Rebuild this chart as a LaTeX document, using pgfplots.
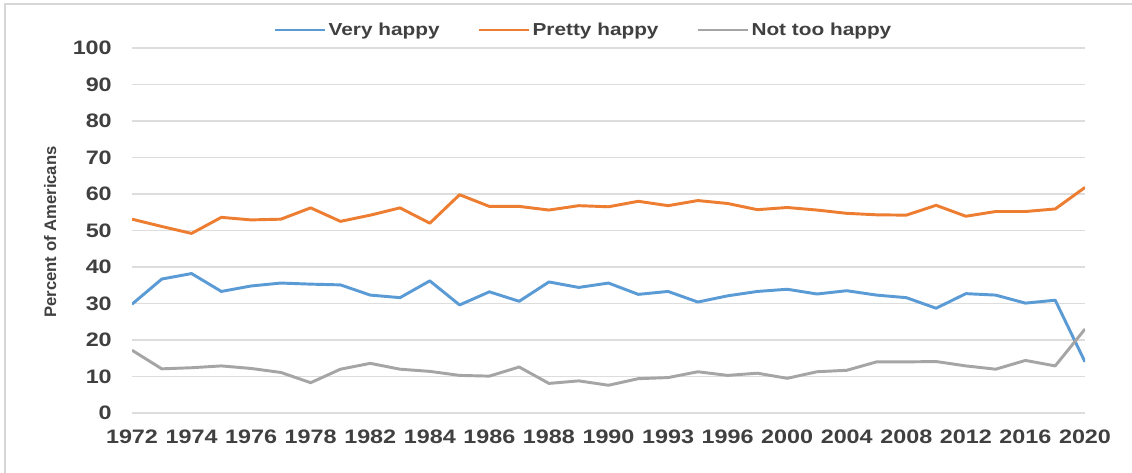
\documentclass[border=0pt]{standalone}
\usepackage{fontspec}
\setmainfont{Liberation Sans}[FakeStretch=1.2]
\newfontfamily\ylfont{Liberation Sans}
\usepackage{pgfplots}
\usepackage{pgfplotstable}
\pgfplotsset{compat=1.18}
\definecolor{cVery}{HTML}{5B9BD5}
\definecolor{cPretty}{HTML}{ED7D31}
\definecolor{cNot}{HTML}{A5A5A5}
\definecolor{cText}{HTML}{404040}
\definecolor{cGrid}{HTML}{DDDDDD}
\definecolor{cFrame}{HTML}{D6D6D6}
\pgfplotstableread{
i very pretty not
0 29.8 53.1 17.2
1 36.7 51.1 12.1
2 38.2 49.2 12.4
3 33.3 53.6 12.9
4 34.8 52.9 12.2
5 35.6 53.1 11.1
6 35.3 56.2 8.3
7 35.1 52.5 12.0
8 32.3 54.2 13.6
9 31.6 56.2 12.0
10 36.2 52.0 11.4
11 29.6 59.8 10.3
12 33.2 56.6 10.1
13 30.6 56.6 12.6
14 35.9 55.6 8.1
15 34.4 56.8 8.8
16 35.6 56.5 7.6
17 32.5 58.0 9.4
18 33.3 56.8 9.7
19 30.4 58.2 11.3
20 32.1 57.4 10.3
21 33.3 55.7 10.9
22 33.9 56.3 9.5
23 32.6 55.6 11.3
24 33.5 54.7 11.7
25 32.3 54.3 14.0
26 31.6 54.2 14.0
27 28.7 56.9 14.1
28 32.7 53.9 12.9
29 32.3 55.2 12.0
30 30.1 55.2 14.4
31 30.9 55.9 12.9
32 14.0 61.8 23.0
}\datatable
\begin{document}
\begin{tikzpicture}
\useasboundingbox (0,0) rectangle (849pt,354.75pt);
\fill[white] (0,0) rectangle (849pt,354.75pt);
\draw[cFrame, line width=1.2pt] (3.75pt,0) -- (3.75pt,351.75pt) -- (849pt,351.75pt);
\begin{axis}[
  at={(99pt,45pt)}, anchor=south west,
  scale only axis,
  width=714.75pt, height=273.75pt,
  xmin=0, xmax=32, ymin=0, ymax=100,
  xtick={0,2,...,32},
  xticklabels={1972,1974,1976,1978,1982,1984,1986,1988,1990,1993,1996,2000,2004,2008,2012,2016,2020},
  ytick={0,10,...,100},
  axis line style={draw=none},
  major tick length=0pt,
  ymajorgrids,
  grid style={cGrid, line width=1.3pt},
  /pgf/number format/assume math mode=true,
  ticklabel style={font=\fontsize{14.6}{16}\selectfont\bfseries, text=cText, inner sep=0pt},
  yticklabel style={anchor=east, xshift=-15pt},
  xticklabel style={anchor=north, yshift=-12.5pt},
  ylabel={Percent of Americans},
  every axis y label/.style={at={(axis description cs:-0.086,0.496)}, rotate=90, anchor=center, font=\ylfont\fontsize{12.5}{14}\selectfont\bfseries, text=cText},
  legend columns=3,
  legend style={at={(axis description cs:0.4738,1.0493)}, anchor=center, draw=none, fill=none,
    font=\fontsize{13}{15}\selectfont\bfseries, text=cText,
    /tikz/every even column/.append style={column sep=27pt},
    nodes={inner sep=1.5pt}},
  legend image code/.code={\draw[#1] (0pt,0pt) -- (37.5pt,0pt);},
  every axis plot/.append style={line width=2.2pt, line join=round, no markers},
]
\addplot[cVery] table[x=i, y=very] {\datatable};
\addlegendentry{Very happy}
\addplot[cPretty] table[x=i, y=pretty] {\datatable};
\addlegendentry{Pretty happy}
\addplot[cNot] table[x=i, y=not] {\datatable};
\addlegendentry{Not too happy}
\end{axis}
\end{tikzpicture}
\end{document}
